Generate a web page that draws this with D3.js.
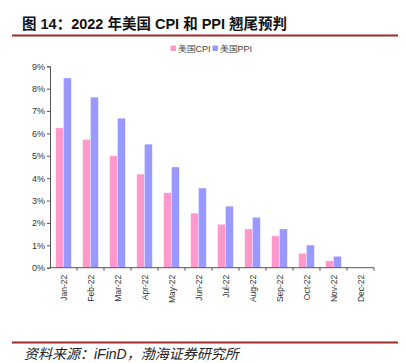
<!DOCTYPE html>
<html>
<head>
<meta charset="utf-8">
<script src="https://cdn.jsdelivr.net/npm/d3@7"></script>
<style>
  body { margin: 0; background: #fff; }
  svg { display: block; font-family: Arial, "Liberation Sans", sans-serif; }
</style>
</head>
<body>
<svg id="chart" width="406" height="363"></svg>
<script>
// data
var months = ["Jan-22","Feb-22","Mar-22","Apr-22","May-22","Jun-22","Jul-22","Aug-22","Sep-22","Oct-22","Nov-22","Dec-22"]
var cpi = [6.25, 5.73, 5.0, 4.18, 3.35, 2.44, 1.94, 1.73, 1.42, 0.64, 0.31, null]
var ppi = [8.48, 7.62, 6.68, 5.52, 4.5, 3.56, 2.75, 2.25, 1.73, 1.01, 0.51, null]
var yTicks = [0, 1, 2, 3, 4, 5, 6, 7, 8, 9]
var seriesNames = ["美国CPI", "美国PPI"]
var colors = ["#ff99cc", "#9999ff"]

var svg = d3.select("#chart")
var plotL = 50, plotR = 374, plotT = 66.3, plotB = 267.7

// title + rules
svg.append("text")
  .attr("x", 22).attr("y", 29)
  .style("font-family", "'Liberation Sans', 'Noto Sans CJK SC', sans-serif")
  .style("font-weight", "bold").style("font-size", "14.5px")
  .attr("fill", "#111")
  .text("图 14：2022 年美国 CPI 和 PPI 翘尾预判")
svg.append("rect").attr("x", 12).attr("y", 34.5).attr("width", 386).attr("height", 2).attr("fill", "#9e2a2b")
svg.append("rect").attr("x", 12).attr("y", 341.5).attr("width", 386).attr("height", 2).attr("fill", "#9e2a2b")
svg.append("text")
  .attr("x", 24).attr("y", 359)
  .style("font-family", "'Liberation Sans', 'Noto Sans CJK SC', sans-serif")
  .style("font-style", "italic").style("font-size", "14px")
  .attr("fill", "#222")
  .text("资料来源：iFinD，渤海证券研究所")

var x = d3.scaleBand().domain(months).range([plotL, plotR])
var x1 = d3.scaleBand().domain([0, 1]).range([5.7, 21.3])
var y = d3.scaleLinear().domain([0, 9]).range([plotB, plotT])

// y axis
var yAxis = svg.append("g").attr("transform", "translate(" + plotL + ",0)")
  .call(d3.axisLeft(y).tickValues(yTicks).tickSize(3).tickFormat(function(d){ return d + "%" }))
yAxis.select(".domain").attr("stroke", "#555")
yAxis.selectAll(".tick line").attr("stroke", "#555")
yAxis.selectAll("text").style("font-size", "9px").attr("fill", "#333").attr("x", -5)

// bars
var groups = svg.append("g").selectAll("g")
  .data(months).enter().append("g")
  .attr("transform", function(d){ return "translate(" + x(d) + ",0)" })

;[cpi, ppi].forEach(function(series, s){
  groups.append("rect")
    .filter(function(d, i){ return series[i] != null })
    .attr("x", x1(s))
    .attr("width", x1.bandwidth())
    .attr("y", function(d){ return y(series[months.indexOf(d)]) })
    .attr("height", function(d){ return plotB - y(series[months.indexOf(d)]) })
    .attr("fill", colors[s])
    .attr("stroke", "#fff").attr("stroke-opacity", 0.5).attr("stroke-width", 0.6)
})

// x axis with ticks at band edges
var xg = svg.append("g").attr("transform", "translate(0," + plotB + ")")
xg.append("line").attr("x1", plotL).attr("x2", plotR).attr("stroke", "#555")
xg.selectAll("line.tk")
  .data(months.slice(1).concat(["end"])).enter().append("line")
  .attr("class", "tk")
  .attr("x1", function(d){ return d == "end" ? plotR : x(d) })
  .attr("x2", function(d){ return d == "end" ? plotR : x(d) })
  .attr("y1", 0).attr("y2", 3).attr("stroke", "#555")
xg.selectAll("text")
  .data(months).enter().append("text")
  .attr("transform", function(d){ return "translate(" + (x(d) + x.bandwidth()/2 + 3) + ",7) rotate(-90)" })
  .attr("text-anchor", "end")
  .style("font-size", "8.5px").attr("fill", "#333")
  .text(function(d){ return d })

// legend
var legendX = [170.5, 212.5]
var legend = svg.append("g").selectAll("g")
  .data(seriesNames).enter().append("g")
  .attr("transform", function(d, i){ return "translate(" + legendX[i] + ",45.5)" })
legend.append("rect").attr("width", 5.5).attr("height", 5.5).attr("fill", function(d, i){ return colors[i] })
legend.append("text").attr("x", 7).attr("y", 6)
  .style("font-size", "9px").attr("fill", "#444")
  .text(function(d){ return d })
</script>
</body>
</html>
